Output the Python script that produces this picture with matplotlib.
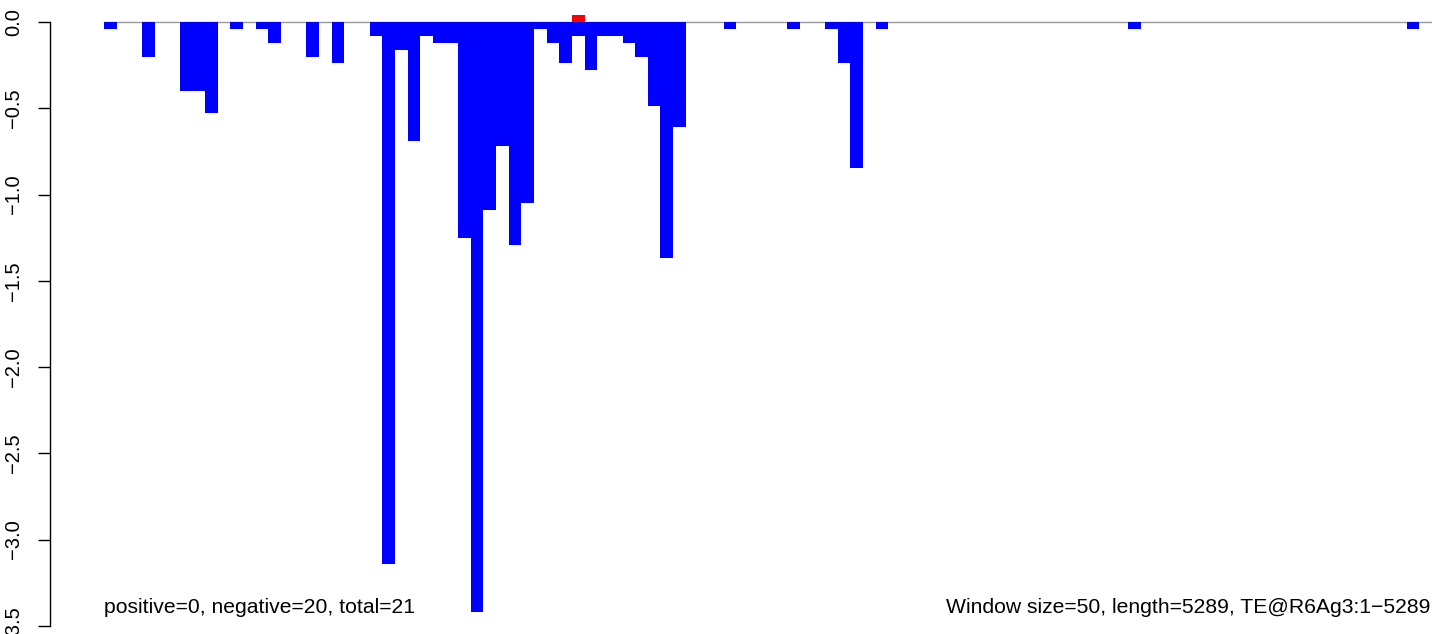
import matplotlib
matplotlib.use("Agg")
import matplotlib.pyplot as plt
import numpy as np

plt.rcParams['font.family'] = ['Liberation Sans', 'DejaVu Sans']

n_windows = 105
neg_index = [0, 3, 6, 7, 8, 10, 12, 13, 16, 18, 21, 22, 23, 24, 25, 26, 27, 28, 29, 30,
             31, 32, 33, 34, 35, 36, 37, 38, 39, 40, 41, 42, 43, 44, 45, 49, 54, 57, 58,
             59, 61, 81, 103]
neg_values = [-0.04, -0.20, -0.40, -0.40, -0.53, -0.04, -0.04, -0.12, -0.20, -0.24,
              -0.08, -3.14, -0.16, -0.69, -0.08, -0.12, -0.12, -1.25, -3.42, -1.09,
              -0.72, -1.29, -1.05, -0.04, -0.12, -0.24, -0.08, -0.28, -0.08, -0.08,
              -0.12, -0.20, -0.485, -1.37, -0.607, -0.04, -0.04, -0.04, -0.24,
              -0.845, -0.04, -0.04, -0.04]
pos_index = [37]
pos_values = [0.04]
yticks = [0.0, -0.5, -1.0, -1.5, -2.0, -2.5, -3.0, -3.5]
left_label = "positive=0, negative=20, total=21"
right_label = "Window size=50, length=5289, TE@R6Ag3:1\u22125289"

W, H = 1444, 634
fig = plt.figure(figsize=(W / 100, H / 100), dpi=100)
ax = fig.add_axes([50 / W, 0, (1432 - 50) / W, (H - 5) / H])

pitch = (1432 - 104) / 105.0
ppu = 172.5
ax.set_xlim(-54 / pitch, 105)
ax.set_ylim(-(H - 22) / ppu, (22 - 5) / ppu)

ax.plot([0, n_windows], [0, 0], color='#999999', lw=1.0, zorder=1)
ax.bar(neg_index, neg_values, width=1.0, align='edge', color='#0000FF', linewidth=0, zorder=2)
ax.bar(pos_index, pos_values, width=1.0, align='edge', color='#FF0000', linewidth=0, zorder=2)

for s in ['top', 'right', 'bottom']:
    ax.spines[s].set_visible(False)
ax.spines['left'].set_bounds(-3.5, 0)
ax.spines['left'].set_linewidth(1.0)
ax.set_xticks([])
ax.set_yticks(yticks)
ax.set_yticklabels([f"{v:.1f}".replace('-', '\u2212') for v in yticks])
ax.tick_params(axis='y', length=8.6, width=1.0, pad=11.0, labelsize=14.5, labelrotation=90)
for lab in ax.get_yticklabels():
    lab.set_va('center')
    lab.set_ha('right')

ax.text(0, -(613 - 22) / ppu, left_label, ha='left', va='baseline', fontsize=15.2)
ax.text((1430 - 104) / pitch, -(613 - 22) / ppu, right_label, ha='right', va='baseline', fontsize=15.2)

fig.savefig("out.png", dpi=100)
